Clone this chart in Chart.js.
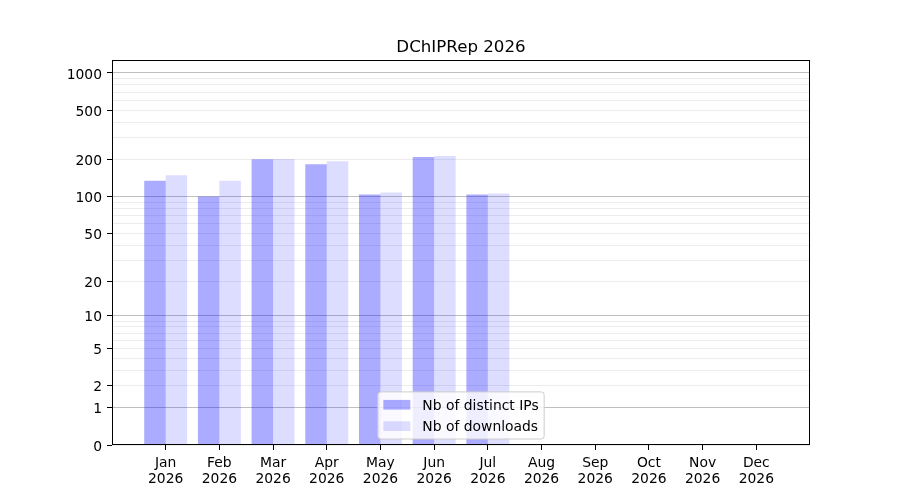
<!DOCTYPE html>
<html>
<head>
<meta charset="utf-8">
<title>DChIPRep 2026</title>
<script src="https://cdn.jsdelivr.net/npm/chart.js@4.4.1/dist/chart.umd.min.js"></script>
<style>
  html, body { margin: 0; padding: 0; background: #fff; }
  #wrap { width: 900px; height: 500px; }
</style>
</head>
<body>
<div id="wrap"><canvas id="chart" width="900" height="500"></canvas></div>
<script>
// values
const months = ['Jan', 'Feb', 'Mar', 'Apr', 'May', 'Jun', 'Jul', 'Aug', 'Sep', 'Oct', 'Nov', 'Dec'];
const yearLabel = '2026';
const distinctIPs = [134, 100, 201, 183, 104, 209, 104, 0, 0, 0, 0, 0];
const downloads = [149, 134, 202, 193, 108, 213, 106, 0, 0, 0, 0, 0];

// y axis: every grid line, the labelled ones, and the darker ones
const yTickValues = [0, 1, 2, 3, 4, 5, 6, 7, 8, 9, 10, 20, 30, 40, 50, 60, 70, 80, 90,
    100, 200, 300, 400, 500, 600, 700, 800, 900, 1000];
const yTickLabels = [0, 1, 2, 5, 10, 20, 50, 100, 200, 500, 1000];
const yMajorGrid = [1, 10, 100, 1000];
const yMax = 1273;

Chart.defaults.font.family = '"DejaVu Sans", sans-serif';
Chart.defaults.font.size = 13.89;
Chart.defaults.color = '#000';

// log10(1 + v) axis, like the reference
class Log1pScale extends Chart.LinearScale {
    static id = 'log1p';

    buildTicks() {
        return yTickValues
            .filter(v => v >= this.min && v <= this.max)
            .map(v => ({ value: v }));
    }

    configure() {
        super.configure();
        this._startValue = Math.log10(1 + this.min);
        this._endValue = Math.log10(1 + this.max);
        this._valueRange = this._endValue - this._startValue;
    }

    getPixelForValue(value) {
        if (value === undefined || value === null || isNaN(value)) return NaN;
        return this.getPixelForDecimal((Math.log10(1 + value) - this._startValue) / this._valueRange);
    }

    getValueForPixel(pixel) {
        return Math.pow(10, this._startValue + this.getDecimalForPixel(pixel) * this._valueRange) - 1;
    }
}
Chart.register(Log1pScale);

const frame = {
    id: 'frame',
    afterDatasetsDraw(chart) {
        const { ctx, chartArea } = chart;
        ctx.save();
        ctx.strokeStyle = '#000';
        ctx.lineWidth = 1;
        ctx.strokeRect(chartArea.left + 0.5, chartArea.top + 0.5,
            chartArea.right - chartArea.left - 1, chartArea.bottom - chartArea.top - 1);
        ctx.restore();
    }
};

const legendBox = {
    id: 'legendBox',
    afterDraw(chart) {
        const { ctx, chartArea } = chart;
        const items = chart.data.datasets;
        ctx.save();
        ctx.font = '13.89px "DejaVu Sans"';
        const textW = Math.max(...items.map(d => ctx.measureText(d.label).width));
        const pad = 5.5, handleW = 27, handleH = 9.7, textGap = 12, rowH = 14.7, rowGap = 6.7;
        const w = pad * 2 + handleW + textGap + textW;
        const h = pad * 2 + rowH * items.length + rowGap * (items.length - 1);
        const x = (chartArea.left + chartArea.right) / 2 - w / 2;
        const y = chartArea.bottom - 6 - h;

        ctx.beginPath();
        ctx.roundRect(x, y, w, h, 3);
        ctx.fillStyle = 'rgba(255,255,255,0.8)';
        ctx.fill();
        ctx.strokeStyle = '#cccccc';
        ctx.lineWidth = 1;
        ctx.stroke();

        items.forEach((d, i) => {
            const cy = y + pad + rowH / 2 + i * (rowH + rowGap);
            ctx.fillStyle = d.backgroundColor;
            ctx.fillRect(x + pad, cy - handleH / 2, handleW, handleH);
            ctx.fillStyle = '#000';
            ctx.textAlign = 'left';
            ctx.textBaseline = 'middle';
            ctx.fillText(d.label, x + pad + handleW + textGap, cy + 1.5);
        });
        ctx.restore();
    }
};

const ctx = document.getElementById('chart').getContext('2d');
const myChart = new Chart(ctx, {
    type: 'bar',
    data: {
        datasets: [{
            label: 'Nb of distinct IPs',
            data: months.map((m, i) => ({ x: i, y: distinctIPs[i] })),
            backgroundColor: 'rgba(0, 0, 255, 0.33)',
            borderWidth: 0
        }, {
            label: 'Nb of downloads',
            data: months.map((m, i) => ({ x: i, y: downloads[i] })),
            backgroundColor: 'rgba(0, 0, 255, 0.133)',
            borderWidth: 0
        }]
    },
    options: {
        responsive: false,
        animation: false,
        categoryPercentage: 0.8,
        barPercentage: 1.0,
        layout: {
            padding: { left: 0, right: 90, top: 0, bottom: 0 }
        },
        plugins: {
            legend: { display: false },
            tooltip: { enabled: false },
            title: {
                display: true,
                fullSize: false,
                text: 'DChIPRep 2026',
                color: '#000',
                font: { size: 16.67, weight: 'normal', lineHeight: 1.2 },
                padding: { top: 37.6, bottom: 2.4 }
            }
        },
        scales: {
            x: {
                type: 'linear',
                min: -1,
                max: 12,
                offset: false,
                afterBuildTicks: scale => {
                    scale.ticks = months.map((m, i) => ({ value: i }));
                },
                afterFit: scale => {
                    scale.height = 55;
                },
                ticks: {
                    autoSkip: false,
                    maxRotation: 0,
                    padding: 5.5,
                    font: { size: 13.89, lineHeight: 1.15 },
                    callback: value => [months[value], yearLabel]
                },
                grid: {
                    offset: false,
                    drawOnChartArea: false,
                    tickLength: 5,
                    tickColor: '#000',
                    tickWidth: 1
                },
                border: { display: false }
            },
            y: {
                type: 'log1p',
                position: 'left',
                min: 0,
                max: yMax,
                afterFit: scale => {
                    scale.width = 112;
                },
                ticks: {
                    autoSkip: false,
                    padding: 5,
                    labelOffset: 2,
                    callback: value => yTickLabels.includes(value) ? String(value) : ''
                },
                grid: {
                    tickLength: 5,
                    tickWidth: 1,
                    lineWidth: 1,
                    color: c => yMajorGrid.includes(c.tick.value) ? 'rgba(0,0,0,0.25)' : 'rgba(0,0,0,0.075)',
                    tickColor: c => yTickLabels.includes(c.tick.value) ? '#000' : 'rgba(0,0,0,0)'
                },
                border: { display: false }
            }
        }
    },
    plugins: [frame, legendBox]
});
</script>
</body>
</html>
